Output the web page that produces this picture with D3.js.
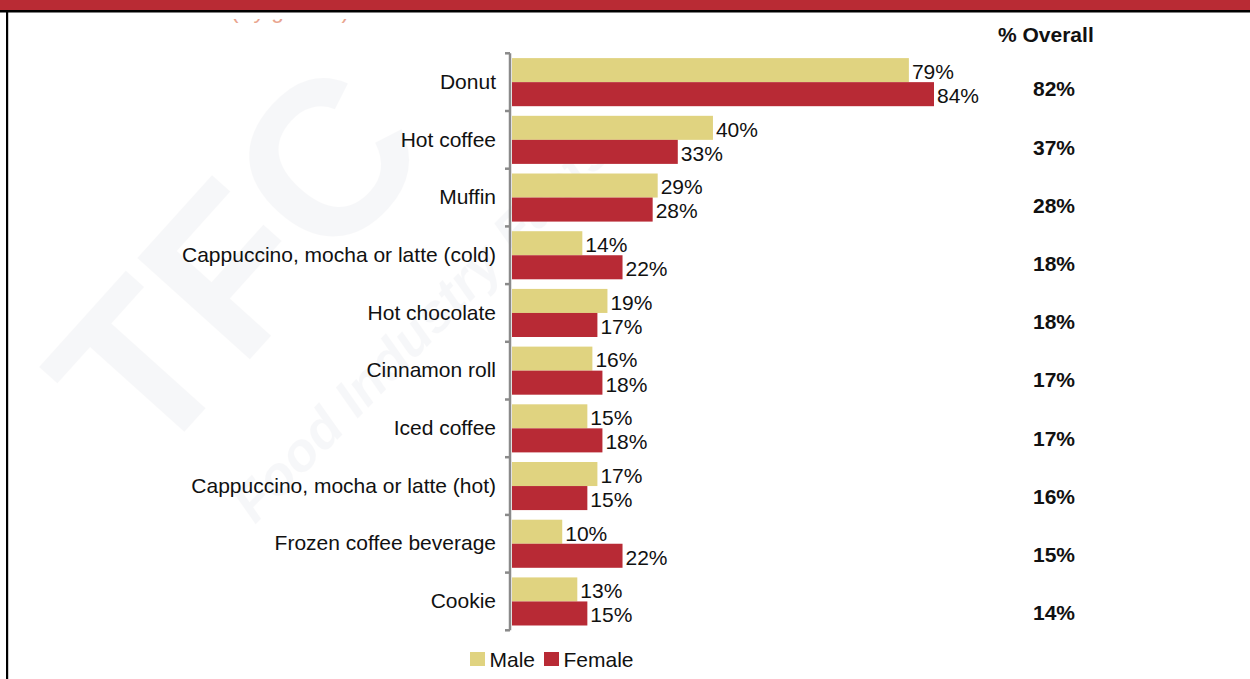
<!DOCTYPE html>
<html>
<head>
<meta charset="utf-8">
<script src="https://cdn.jsdelivr.net/npm/d3@7/dist/d3.min.js"></script>
<style>
  html, body { margin: 0; padding: 0; background: #fff; }
  svg { display: block; font-family: "Liberation Sans", Arial, sans-serif; }
</style>
</head>
<body>
<svg id="chart" width="1250" height="679"></svg>
<script>
// Items purchased, by gender, with the overall share
const categories = [
  "Donut", "Hot coffee", "Muffin", "Cappuccino, mocha or latte (cold)",
  "Hot chocolate", "Cinnamon roll", "Iced coffee",
  "Cappuccino, mocha or latte (hot)", "Frozen coffee beverage", "Cookie"
];
const male    = [79, 40, 29, 14, 19, 16, 15, 17, 10, 13];
const female  = [84, 33, 28, 22, 17, 18, 18, 15, 22, 15];
const overall = [82, 37, 28, 18, 18, 17, 17, 16, 15, 14];
const seriesNames = ["Male", "Female"];
const seriesColors = ["#E0D380", "#B82A35"];
const subtitle = "(By gender)";
const overallTitle = "% Overall";

const W = 1250, H = 679;
const svg = d3.select("#chart");

// Faint brand watermark behind the plot
const wm = svg.append("g").attr("pointer-events", "none").attr("opacity", 0.03).attr("fill", "#1a2a55");
wm.append("text")
  .attr("transform", "translate(150,470) rotate(-48)")
  .attr("font-size", 220).attr("font-weight", "bold")
  .text("TFC");
wm.append("text")
  .attr("transform", "translate(255,525) rotate(-46)")
  .attr("font-size", 54).attr("font-weight", "bold").attr("font-style", "italic")
  .text("Food Industry Facts");

// Page frame: red header band, dark rule, left border
svg.append("rect").attr("x", 0).attr("y", 0).attr("width", W).attr("height", 10).attr("fill", "#B92B34");
svg.append("rect").attr("x", 0).attr("y", 10).attr("width", W).attr("height", 2.5).attr("fill", "#000");
svg.append("rect").attr("x", 6).attr("y", 10).attr("width", 2.2).attr("height", H - 10).attr("fill", "#000");

// Subtitle, mostly hidden under the header
svg.append("defs").append("clipPath").attr("id", "subclip")
  .append("rect").attr("x", 0).attr("y", 19).attr("width", W).attr("height", 10);
svg.append("text")
  .attr("clip-path", "url(#subclip)")
  .attr("x", 231).attr("y", 18)
  .attr("font-size", 22.6)
  .attr("fill", "#E9A58F")
  .text(subtitle);

// Scales
const x = d3.scaleLinear().domain([0, 84]).range([512, 934]);
const y = d3.scaleBand().domain(categories).range([53.3, 630.3]).paddingInner(0).paddingOuter(0);
const sub = d3.scaleBand().domain(seriesNames).range([0, y.bandwidth()]).paddingInner(0).paddingOuter(0.2);
const color = d3.scaleOrdinal().domain(seriesNames).range(seriesColors);
const yOverall = d3.scalePoint().domain(categories).range([89, 613]);

const rows = categories.map((c, i) => ({ cat: c, vals: [
  { key: "Male", v: male[i] }, { key: "Female", v: female[i] }
]}));

const g = svg.append("g");

// Bars
const groups = g.selectAll("g.row").data(rows).join("g")
  .attr("class", "row")
  .attr("transform", d => `translate(0,${y(d.cat)})`);

groups.selectAll("rect").data(d => d.vals).join("rect")
  .attr("x", x(0))
  .attr("y", d => sub(d.key))
  .attr("width", d => x(d.v) - x(0))
  .attr("height", sub.bandwidth())
  .attr("fill", d => color(d.key));

// Value labels
groups.selectAll("text").data(d => d.vals).join("text")
  .attr("x", d => x(d.v) + 3)
  .attr("y", d => sub(d.key) + sub.bandwidth() / 2 + 1.5)
  .attr("dy", "0.35em")
  .attr("font-size", 21)
  .attr("fill", "#111")
  .text(d => d.v + "%");

// Category axis: line with ticks at band boundaries
const axisX = 510;
const axis = d3.axisLeft(y).tickSize(0).tickPadding(14);
const ax = svg.append("g").attr("transform", `translate(${axisX},0)`).call(axis);
ax.select(".domain").remove();
ax.selectAll("text").attr("font-size", 21).attr("fill", "#111")
  .attr("font-family", "\"Liberation Sans\", Arial, sans-serif");

const bounds = categories.map(c => y(c)).concat([y.range()[1]]);
svg.append("line")
  .attr("x1", axisX).attr("x2", axisX)
  .attr("y1", bounds[0]).attr("y2", bounds[bounds.length - 1])
  .attr("stroke", "#8a8a8a").attr("stroke-width", 2.5);
svg.selectAll("line.tick-b").data(bounds).join("line")
  .attr("class", "tick-b")
  .attr("x1", axisX - 5).attr("x2", axisX)
  .attr("y1", d => d).attr("y2", d => d)
  .attr("stroke", "#8a8a8a").attr("stroke-width", 2.5);

// Overall column
svg.append("text")
  .attr("x", 998).attr("y", 42)
  .attr("font-size", 21).attr("font-weight", "bold").attr("fill", "#111")
  .text(overallTitle);
svg.selectAll("text.overall").data(categories).join("text")
  .attr("class", "overall")
  .attr("x", 1033)
  .attr("y", d => yOverall(d))
  .attr("dy", "0.35em")
  .attr("font-size", 21).attr("font-weight", "bold").attr("fill", "#111")
  .text((d, i) => overall[i] + "%");

// Legend
const legend = svg.append("g").attr("transform", "translate(470,652)");
const legendX = [0, 74];
seriesNames.forEach((s, i) => {
  legend.append("rect").attr("x", legendX[i]).attr("y", 0).attr("width", 15).attr("height", 14).attr("fill", color(s));
  legend.append("text").attr("x", legendX[i] + 19.5).attr("y", 14.5)
    .attr("font-size", 21).attr("fill", "#111").text(s);
});
</script>
</body>
</html>
